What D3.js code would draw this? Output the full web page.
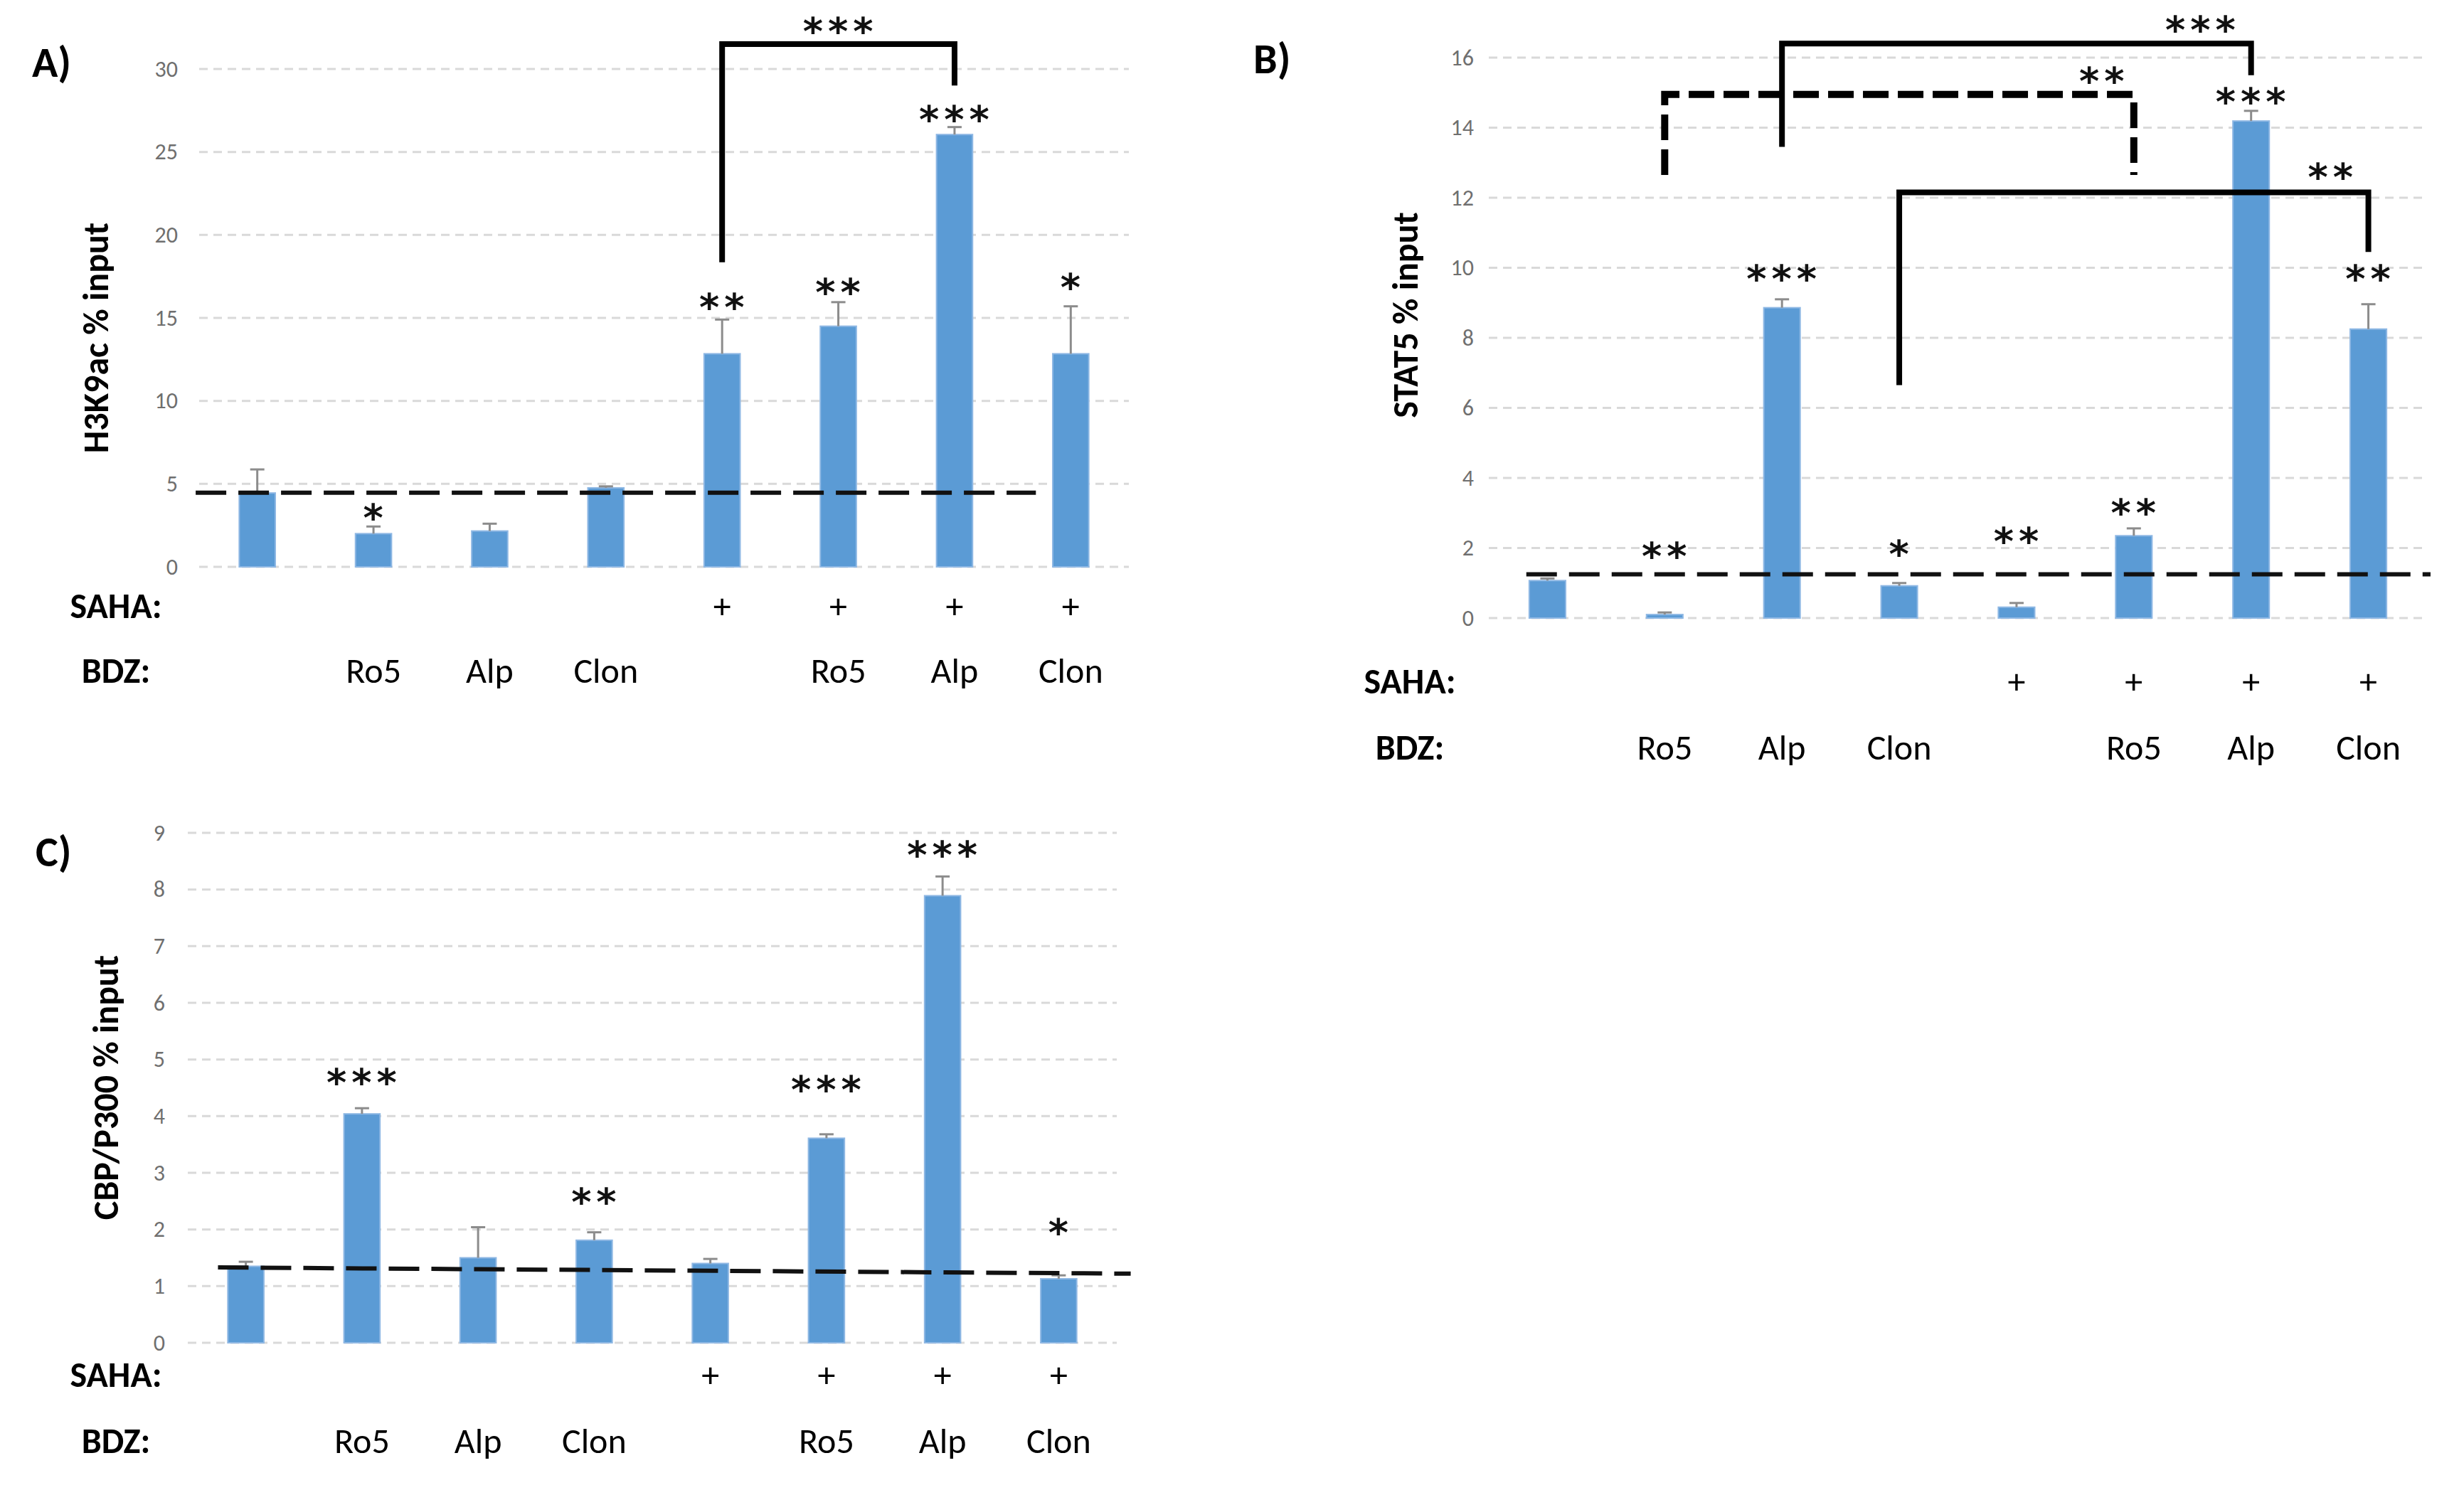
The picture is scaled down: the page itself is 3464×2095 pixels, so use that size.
<!DOCTYPE html>
<html>
<head>
<meta charset="utf-8">
<script src="https://cdn.jsdelivr.net/npm/d3@7"></script>
<style>
  body { margin: 0; background: #fff; }
  text { font-family: Carlito, "Liberation Sans Narrow", "Open Sans", sans-serif; }
</style>
</head>
<body>
<svg id="chart" width="3464" height="2095"></svg>
<script>
// categories (8 treatment groups) and the two label rows under each panel
var groups = ['ctrl', 'Ro5', 'Alp', 'Clon', 'SAHA', 'SAHA+Ro5', 'SAHA+Alp', 'SAHA+Clon']
var sahaRow = ['', '', '', '', '+', '+', '+', '+']
var bdzRow = ['', 'Ro5', 'Alp', 'Clon', '', 'Ro5', 'Alp', 'Clon']

// A) H3K9ac % input
var h3k9acMean = [4.45, 2.0, 2.16, 4.76, 12.84, 14.5, 26.05, 12.84]
var h3k9acErr = [1.42, 0.43, 0.44, 0.09, 2.06, 1.45, 0.45, 2.86]
var h3k9acStars = ['', '*', '', '', '**', '**', '***', '*']
var h3k9acStarAt = [0, 3.3, 0, 0, 16.0, 16.9, 27.3, 17.2]
var h3k9acTicks = [0, 5, 10, 15, 20, 25, 30]

// B) STAT5 % input
var stat5Mean = [1.07, 0.1, 8.86, 0.92, 0.31, 2.35, 14.19, 8.25]
var stat5Err = [0.06, 0.06, 0.24, 0.08, 0.12, 0.21, 0.29, 0.71]
var stat5Stars = ['', '**', '***', '*', '**', '**', '***', '**']
var stat5StarAt = [0, 1.92, 9.84, 1.99, 2.35, 3.16, 14.9, 9.84]
var stat5Ticks = [0, 2, 4, 6, 8, 10, 12, 14, 16]

// C) CBP/P300 % input
var cbpMean = [1.35, 4.04, 1.5, 1.81, 1.4, 3.61, 7.89, 1.13]
var cbpErr = [0.08, 0.1, 0.54, 0.14, 0.08, 0.07, 0.34, 0.06]
var cbpStars = ['', '***', '', '**', '', '***', '***', '*']
var cbpStarAt = [0, 4.7, 0, 2.59, 0, 4.57, 8.71, 2.05]
var cbpTicks = [0, 1, 2, 3, 4, 5, 6, 7, 8, 9]

// dashed reference lines: [group index, value] at each end
var h3k9acRef = [[-0.53, 4.47], [6.7, 4.47]]
var stat5Ref = [[-0.18, 1.25], [7.53, 1.25]]
var cbpRef = [[-0.24, 1.33], [7.62, 1.22]]

// comparison brackets: from/to group index, top value, leg ends, label
var h3k9acBrackets = [
    {from: 4, to: 6, top: 31.5, endFrom: 18.35, endTo: 29.0, label: '***', labelAt: 5.0, labelY: 32.6, dashed: false}
]
var stat5Brackets = [
    {from: 2, to: 6, top: 16.4, endFrom: 13.45, endTo: 15.5, label: '***', labelAt: 5.57, labelY: 16.95, dashed: false},
    {from: 1, to: 5, top: 14.95, endFrom: 12.65, endTo: 12.65, label: '**', labelAt: 4.73, labelY: 15.5, dashed: true},
    {from: 3, to: 7, top: 12.15, endFrom: 6.65, endTo: 10.45, label: '**', labelAt: 6.68, labelY: 12.75, dashed: false}
]

var svg = d3.select('#chart')
var fill = '#5b9bd5'

// star glyphs: bigger and heavier than the body font
function starStyle(sel) {
    sel.attr('text-anchor', 'middle')
        .style('font-family', '"DejaVu Sans", sans-serif')
        .style('font-size', '54px')
        .style('font-weight', 'bold')
        .style('letter-spacing', '7px')
        .style('fill', '#111')
}

function drawPanel(p) {
    var g = svg.append('g')

    var x = d3.scaleBand()
        .domain(groups)
        .range([p.left, p.right])
        .paddingInner(0.69)
        .paddingOuter(0.345)
    var y = d3.scaleLinear()
        .domain([0, p.ticks[p.ticks.length - 1]])
        .range([p.bottom, p.top])
    // group index -> bar centre
    var xi = d3.scaleLinear()
        .domain([0, 1])
        .range([x(groups[0]) + x.bandwidth() / 2, x(groups[1]) + x.bandwidth() / 2])

    // gridlines
    g.selectAll('.grid')
        .data(p.ticks)
        .enter()
        .append('line')
        .attr('x1', p.left)
        .attr('x2', p.right)
        .attr('y1', function(d){ return y(d) })
        .attr('y2', function(d){ return y(d) })
        .style('stroke', '#d9d9d9')
        .style('stroke-width', 3)
        .style('stroke-dasharray', '12,8')

    // y axis (labels only)
    var ax = g.append('g')
        .attr('transform', 'translate(' + p.left + ',0)')
        .call(d3.axisLeft(y).tickValues(p.ticks).tickSize(0).tickPadding(p.tickPad))
    ax.select('.domain').remove()
    ax.selectAll('text')
        .style('font-size', '32px')
        .style('fill', '#6f6f6f')
        .style('font-family', 'Carlito, "Liberation Sans Narrow", "Open Sans", sans-serif')

    // bars
    g.selectAll('.bar')
        .data(p.mean)
        .enter()
        .append('rect')
        .attr('x', function(d, i){ return x(groups[i]) })
        .attr('width', x.bandwidth())
        .attr('y', function(d){ return y(d) })
        .attr('height', function(d){ return y(0) - y(d) })
        .attr('fill', fill)
        .style('stroke', '#8fb8e4')
        .style('stroke-width', 2)

    // error bars (upper only)
    var eb = g.selectAll('.err')
        .data(p.mean)
        .enter()
        .append('g')
    eb.append('line')
        .attr('x1', function(d, i){ return xi(i) })
        .attr('x2', function(d, i){ return xi(i) })
        .attr('y1', function(d){ return y(d) })
        .attr('y2', function(d, i){ return y(d + p.err[i]) })
        .style('stroke', '#8c8c8c')
        .style('stroke-width', 3)
    eb.append('line')
        .attr('x1', function(d, i){ return xi(i) - 10 })
        .attr('x2', function(d, i){ return xi(i) + 10 })
        .attr('y1', function(d, i){ return y(d + p.err[i]) })
        .attr('y2', function(d, i){ return y(d + p.err[i]) })
        .style('stroke', '#8c8c8c')
        .style('stroke-width', 3)

    // dashed reference line
    g.append('line')
        .attr('x1', xi(p.ref[0][0]))
        .attr('y1', y(p.ref[0][1]))
        .attr('x2', xi(p.ref[1][0]))
        .attr('y2', y(p.ref[1][1]))
        .style('stroke', '#111')
        .style('stroke-width', 6)
        .style('stroke-dasharray', '43,17')

    // significance stars over bars (dx re-centres after the trailing letter-spacing)
    g.selectAll('.star')
        .data(p.stars)
        .enter()
        .append('text')
        .attr('x', function(d, i){ return xi(i) })
        .attr('y', function(d, i){ return y(p.starAt[i]) + 27 })
        .attr('dx', 3)
        .call(starStyle)
        .text(function(d){ return d })

    // brackets
    var br = g.selectAll('.bracket')
        .data(p.brackets || [])
        .enter()
        .append('g')
    br.append('path')
        .attr('d', function(b){
            return 'M' + xi(b.from) + ',' + y(b.endFrom) +
                'V' + y(b.top) + 'H' + xi(b.to) + 'V' + y(b.endTo)
        })
        .style('fill', 'none')
        .style('stroke', '#000')
        .style('stroke-width', function(b){ return b.dashed ? 10 : 8 })
        .style('stroke-dasharray', function(b){ return b.dashed ? '36,13' : null })
    br.append('text')
        .attr('x', function(b){ return xi(b.labelAt) })
        .attr('y', function(b){ return y(b.labelY) + 27 })
        .attr('dx', 3)
        .call(starStyle)
        .text(function(b){ return b.label })

    // axis title
    g.append('text')
        .attr('transform', 'translate(' + p.titleX + ',' + p.titleY + ') rotate(-90)')
        .attr('text-anchor', 'middle')
        .attr('dominant-baseline', 'central')
        .style('font-size', '50px')
        .style('font-weight', 'bold')
        .text(p.title)

    // panel letter
    g.append('text')
        .attr('x', p.labelX)
        .attr('y', p.labelY)
        .style('font-size', '60px')
        .style('font-weight', 'bold')
        .text(p.label)

    // SAHA / BDZ rows
    var rows = [{name: 'SAHA:', cells: sahaRow, y: p.sahaY}, {name: 'BDZ:', cells: bdzRow, y: p.bdzY}]
    rows.forEach(function(r){
        g.append('text')
            .attr('x', p.rowX)
            .attr('y', r.y)
            .attr('text-anchor', 'middle')
            .attr('dominant-baseline', 'central')
            .style('font-size', '50px')
            .style('font-weight', 'bold')
            .text(r.name)
        g.selectAll('.row')
            .data(r.cells)
            .enter()
            .append('text')
            .attr('x', function(d, i){ return xi(i) })
            .attr('y', r.y)
            .attr('text-anchor', 'middle')
            .attr('dominant-baseline', 'central')
            .style('font-size', '50px')
            .text(function(d){ return d })
    })
}

drawPanel({
    mean: h3k9acMean, err: h3k9acErr, stars: h3k9acStars, starAt: h3k9acStarAt, ticks: h3k9acTicks,
    ref: h3k9acRef, brackets: h3k9acBrackets,
    left: 280, right: 1587, bottom: 797, top: 97, tickPad: 30,
    title: 'H3K9ac % input', titleX: 134, titleY: 475,
    label: 'A)', labelX: 45, labelY: 108,
    rowX: 163, sahaY: 851, bdzY: 942
})

drawPanel({
    mean: stat5Mean, err: stat5Err, stars: stat5Stars, starAt: stat5StarAt, ticks: stat5Ticks,
    ref: stat5Ref, brackets: stat5Brackets,
    left: 2093, right: 3412, bottom: 869, top: 81, tickPad: 21,
    title: 'STAT5 % input', titleX: 1975, titleY: 443,
    label: 'B)', labelX: 1762, labelY: 103,
    rowX: 1982, sahaY: 957, bdzY: 1050
})

drawPanel({
    mean: cbpMean, err: cbpErr, stars: cbpStars, starAt: cbpStarAt, ticks: cbpTicks,
    ref: cbpRef, brackets: [],
    left: 264, right: 1570, bottom: 1888, top: 1171, tickPad: 32,
    title: 'CBP/P300 % input', titleX: 148, titleY: 1529,
    label: 'C)', labelX: 50, labelY: 1218,
    rowX: 163, sahaY: 1932, bdzY: 2025
})
</script>
</body>
</html>
